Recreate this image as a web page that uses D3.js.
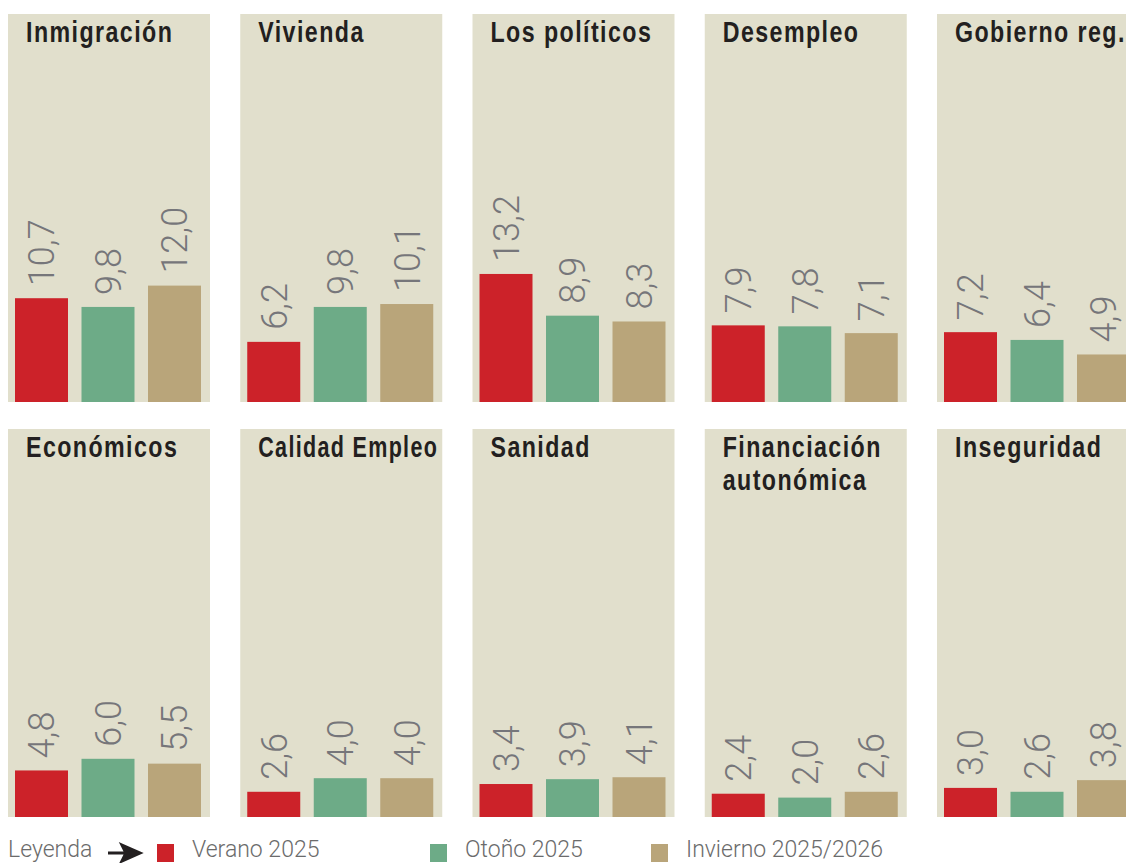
<!DOCTYPE html>
<html>
<head>
<meta charset="utf-8">
<script src="https://cdn.jsdelivr.net/npm/d3@7"></script>
<style>
  body { margin: 0; background: #fff; }
  svg { display: block; }
  .title { font-family: "Liberation Sans", Arial, sans-serif; font-weight: bold; font-size: 29px; fill: #231f20; letter-spacing: 1.8px; }
  .val { font-family: Roboto, "Liberation Sans", sans-serif; font-weight: 300; font-size: 36px; fill: #76767a; }
  .legend text { font-family: Roboto, "Liberation Sans", sans-serif; font-weight: 300; font-size: 23px; fill: #6b6b6b; }
</style>
</head>
<body>
<div id="chart"></div>
<script>
// data
var topics = ['Inmigración', 'Vivienda', 'Los políticos', 'Desempleo', 'Gobierno reg.',
  'Económicos', 'Calidad Empleo', 'Sanidad', 'Financiación autonómica', 'Inseguridad']
var titleLines = [['Inmigración'], ['Vivienda'], ['Los políticos'], ['Desempleo'], ['Gobierno reg.'],
  ['Económicos'], ['Calidad Empleo'], ['Sanidad'], ['Financiación', 'autonómica'], ['Inseguridad']]
var seasons = ['Verano 2025', 'Otoño 2025', 'Invierno 2025/2026']
var verano = [10.7, 6.2, 13.2, 7.9, 7.2, 4.8, 2.6, 3.4, 2.4, 3.0]
var otono = [9.8, 9.8, 8.9, 7.8, 6.4, 6.0, 4.0, 3.9, 2.0, 2.6]
var invierno = [12.0, 10.1, 8.3, 7.1, 4.9, 5.5, 4.0, 4.1, 2.6, 3.8]
var colors = ['#cc2229', '#6dab87', '#b9a57a']

var width = 1126
var height = 863
var panelW = 202
var panelH = 388

var svg = d3.select('#chart')
  .append('svg')
  .attr('width', width)
  .attr('height', height)

// panel placement
var colScale = d3.scaleLinear().domain([0, 4]).range([8, 937])
var rowScale = d3.scaleLinear().domain([0, 1]).range([14, 429])

var xBand = d3.scaleBand()
  .domain(seasons)
  .range([7, 193])
  .paddingInner(0.203)
  .paddingOuter(0)

var yScale = d3.scaleLinear()
  .domain([0, 40])
  .range([panelH, 0])

var fmt = function(v) { return d3.format('.1f')(v).replace('.', ',') }

var panels = topics.map(function(t, i) {
  return {
    key: t,
    lines: titleLines[i],
    col: i % 5,
    row: Math.floor(i / 5),
    values: [verano[i], otono[i], invierno[i]].map(function(v, j) {
      return { season: seasons[j], value: v, color: colors[j] }
    })
  }
})

svg.selectAll('.panel')
  .data(panels)
  .enter()
  .append('g')
  .attr('class', 'panel')
  .attr('transform', function(d) {
    return 'translate(' + colScale(d.col) + ',' + rowScale(d.row) + ')'
  })
  .each(function(d) {
    var g = d3.select(this)

    g.append('rect')
      .attr('width', panelW)
      .attr('height', panelH)
      .attr('fill', '#e1dfcc')

    // condensed bold title (no narrow face installed, so squeeze it)
    var title = g.append('text')
      .attr('class', 'title')

    title.selectAll('tspan')
      .data(d.lines)
      .enter()
      .append('tspan')
      .attr('x', 0)
      .attr('y', function(l, i) { return i * 33 })
      .text(function(l) { return l })

    // keep long titles inside the panel
    var w = title.node().getBBox().width
    var s = Math.min(0.8, (panelW - 22) / w)
    title.attr('transform', 'translate(18,28) scale(' + s + ',1)')

    g.selectAll('.bar')
      .data(d.values)
      .enter()
      .append('rect')
      .attr('class', 'bar')
      .attr('x', function(v) { return xBand(v.season) })
      .attr('width', xBand.bandwidth())
      .attr('y', function(v) { return yScale(v.value) })
      .attr('height', function(v) { return panelH - yScale(v.value) })
      .attr('fill', function(v) { return v.color })

    g.selectAll('.val')
      .data(d.values)
      .enter()
      .append('text')
      .attr('class', 'val')
      .attr('transform', function(v) {
        var cx = xBand(v.season) + xBand.bandwidth() / 2
        return 'translate(' + cx + ',' + (yScale(v.value) - 12) + ') rotate(-90)'
      })
      .attr('dy', '0.36em')
      .text(function(v) { return fmt(v.value) })
  })

// legend
var legend = svg.append('g').attr('class', 'legend')
legend.append('text').attr('x', 8).attr('y', 857).text('Leyenda')
legend.append('path')
  .attr('d', 'M108,853 L132,853 M122,845 L140,853 L122,861 L126,853 Z')
  .attr('stroke', '#231f20')
  .attr('stroke-width', 3)
  .attr('stroke-linejoin', 'miter')
  .attr('fill', '#231f20')

var legendX = [157, 430, 651]
legend.selectAll('.sw')
  .data(seasons)
  .enter()
  .append('rect')
  .attr('x', function(d, i) { return legendX[i] })
  .attr('y', 844)
  .attr('width', 17)
  .attr('height', 18)
  .attr('fill', function(d, i) { return colors[i] })
legend.selectAll('.lt')
  .data(seasons)
  .enter()
  .append('text')
  .attr('x', function(d, i) { return legendX[i] + 35 })
  .attr('y', 857)
  .text(function(d) { return d })
</script>
</body>
</html>
